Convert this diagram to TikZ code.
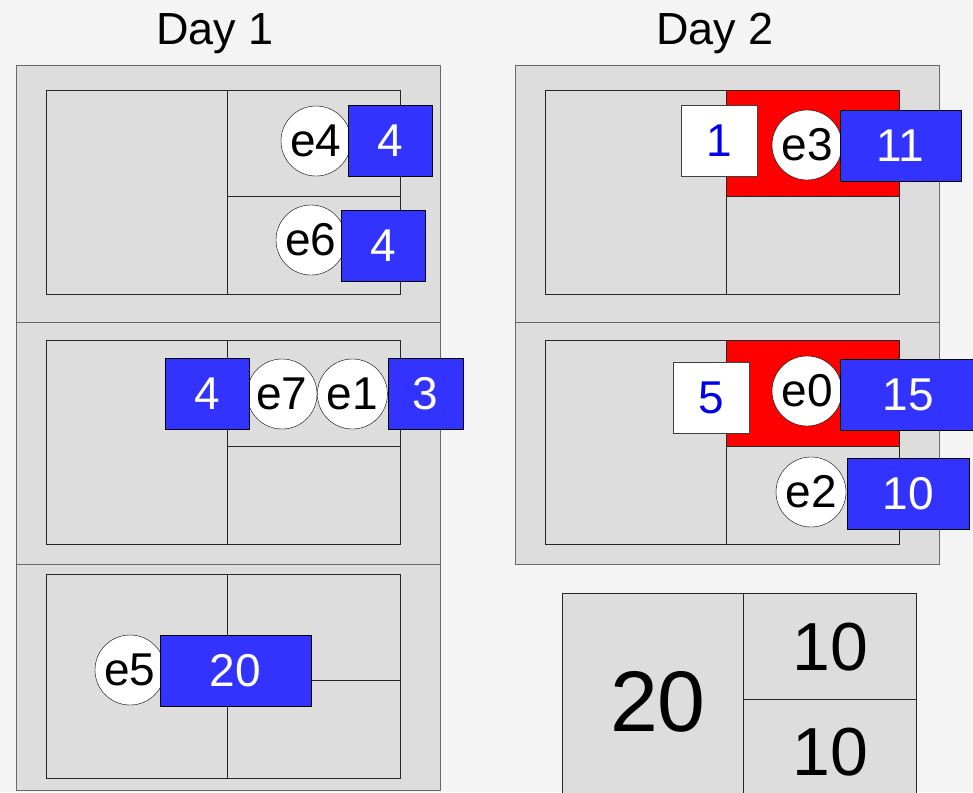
\documentclass[tikz,border=0pt]{standalone}
\usepackage{fontspec}
\setmainfont{Liberation Sans}
\usetikzlibrary{positioning}
\definecolor{bggray}{RGB}{244,244,244}
\definecolor{panelgray}{RGB}{221,221,221}
\definecolor{edgegray}{RGB}{105,105,105}
\definecolor{chipblue}{RGB}{51,51,255}
\definecolor{hotred}{RGB}{255,0,0}
\definecolor{numblue}{RGB}{0,0,235}
\tikzset{
  panel/.style={draw=edgegray,fill=panelgray,line width=1pt},
  court/.style={draw=black!85,line width=1pt},
  player/.style={circle,draw=black,fill=white,minimum size=70pt,
    inner sep=0pt,font=\fontsize{46}{46}\selectfont},
  load/.style={draw=black,fill=chipblue,text=white,minimum height=71pt,
    inner sep=0pt,font=\fontsize{46}{46}\selectfont},
  spare/.style={draw=black!75,fill=white,text=numblue,minimum width=76pt,
    minimum height=71pt,inner sep=0pt,font=\fontsize{46}{46}\selectfont},
  daylab/.style={font=\fontsize{45}{45}\selectfont,anchor=base},
  board/.pic={
    \draw[court,fill=panelgray] (0,0) rectangle (354,204);
    \draw[court] (181,0) -- (181,204);
    \draw[court] (181,106) -- (354,106);
  }
}

\begin{document}
\begin{tikzpicture}[x=1pt,y=-1pt]
  \clip (0,0) rectangle (973,792);
  \fill[bggray] (0,0) rectangle (973,792);
  % day labels
  \node[daylab] (day1) at (215,45) {Day 1};
  \node[daylab] (day2) at (715,45) {Day 2};
  % day 1 panels
  \draw[panel] (16,65) rectangle (440,322);
  \draw[panel] (16,322) rectangle (440,564);
  \draw[panel] (16,564) rectangle (440,790);
  \pic at (46,90) {board};
  \pic at (46,340) {board};
  \pic at (46,574) {board};
  % day 2 panels
  \draw[panel] (515,65) rectangle (939,322);
  \draw[panel] (515,322) rectangle (939,564);
  \pic at (545,90) {board};
  \pic at (545,340) {board};
  \draw[court,fill=hotred] (726,90) rectangle (899,196);
  \draw[court,fill=hotred] (726,340) rectangle (899,446);
  % totals board
  \pic at (562,593) {board};
  \node[font=\fontsize{86}{86}\selectfont] (tot20) at (658,702) {20};
  \node[font=\fontsize{68}{68}\selectfont] (tot10a) at (830,647) {10};
  \node[font=\fontsize{68}{68}\selectfont] (tot10b) at (830,752) {10};

  % day 1, court 1
  \node[player] (e4) at (316,141) {e4};
  \node[load,minimum width=84pt] (w4) at (390,140.5) {4};
  \node[player] (e6) at (311,240) {e6};
  \node[load,minimum width=84pt] (w6) at (383,246) {4};
  % day 1, court 2
  \node[player] (e7) at (282,394) {e7};
  \node[player,right=0pt of e7] (e1) {e1};
  \node[load,minimum width=84pt,left=-3pt of e7] (w7) {4};
  \node[load,minimum width=75pt,right=0pt of e1] (w1) {3};
  % day 1, court 3
  \node[player] (e5) at (130,670) {e5};
  \node[load,minimum width=151pt] (w5) at (235.5,671) {20};

  % day 2, court 1
  \node[spare] (s1) at (719,140.5) {1};
  \node[player] (e3) at (807,145) {e3};
  \node[load,minimum width=121pt] (w3) at (900.5,145.5) {11};
  % day 2, court 2
  \node[spare] (s2) at (711,397.5) {5};
  \node[player] (e0) at (807,391) {e0};
  \node[load,minimum width=136pt] (w0) at (908,395) {15};
  \node[player] (e2) at (811,492) {e2};
  \node[load,minimum width=122pt] (w2) at (908,493.5) {10};
\end{tikzpicture}
\end{document}
